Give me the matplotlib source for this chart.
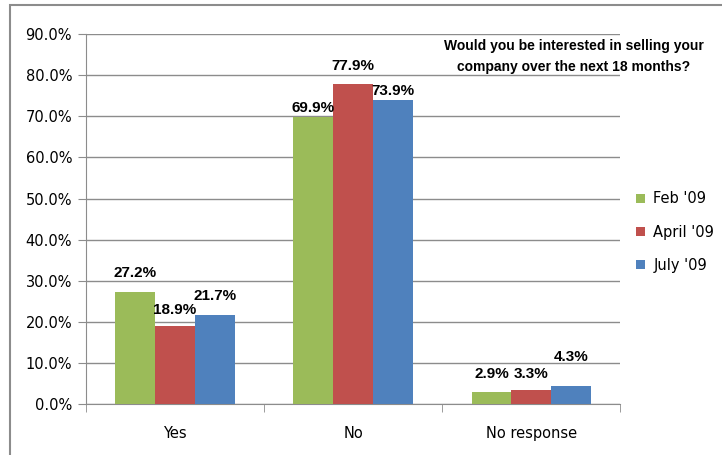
import matplotlib.pyplot as plt
from matplotlib.patches import Rectangle
import numpy as np

categories = ['Yes', 'No', 'No response']
series_names = ["Feb '09", "April '09", "July '09"]
feb = [27.2, 69.9, 2.9]
april = [18.9, 77.9, 3.3]
july = [21.7, 73.9, 4.3]
colors = ['#9BBB59', '#C0504D', '#4F81BD']
# label gaps above each bar (points), per series
label_gaps = [[8.5, 1.5, 8], [7, 8, 7], [8.5, 1.5, 16]]

fig = plt.figure(figsize=(7.22, 4.55), dpi=100)
ax = fig.add_axes([0.119, 0.112, 0.740, 0.813])

x = np.arange(len(categories))
width = 0.223
for i, (vals, name, c) in enumerate(zip([feb, april, july], series_names, colors)):
    pos = x + (i - 1) * width
    bars = ax.bar(pos, vals, width, color=c, label=name, zorder=3)
    for b, v, g in zip(bars, vals, label_gaps[i]):
        ax.annotate(f'{v:.1f}%', (b.get_x() + b.get_width() / 2, v),
                    xytext=(0, g), textcoords='offset points',
                    ha='center', va='bottom', fontsize=11, fontweight='bold',
                    family='Liberation Sans', zorder=4)

ax.set_ylim(0, 90)
ax.set_xlim(-0.5, 2.5)
ax.set_yticks(np.arange(0, 91, 10))
ax.set_yticklabels([f'{t:.1f}%' for t in np.arange(0, 91, 10)], fontsize=10.5)
ax.yaxis.grid(True, color='#8c8c8c', linewidth=1, zorder=0)
ax.set_axisbelow(True)

ax.set_xticks(x)
ax.set_xticklabels(categories, fontsize=10.5)
ax.set_xticks([-0.5, 0.5, 1.5, 2.5], minor=True)
ax.tick_params(axis='x', which='major', length=0, pad=16)
ax.tick_params(axis='x', which='minor', length=6, color='#8c8c8c', direction='out')
ax.tick_params(axis='y', length=6, color='#8c8c8c', direction='out', pad=4)

for s in ['top', 'right']:
    ax.spines[s].set_visible(False)
for s in ['left', 'bottom']:
    ax.spines[s].set_color('#8c8c8c')

ax.text(0.913, 0.94, 'Would you be interested in selling your\ncompany over the next 18 months?',
        transform=ax.transAxes, ha='center', va='center', fontsize=10,
        fontweight='bold', family='Liberation Sans', linespacing=1.6)

ax.legend(loc='center left', bbox_to_anchor=(1.005, 0.465), frameon=False,
          fontsize=10.5, handlelength=0.6, handleheight=0.6, labelspacing=1.25,
          handletextpad=0.6)

# outer chart frame
fig.patches.append(Rectangle((10 / 722, -0.5), 2, 1.5 - 5 / 455,
                             transform=fig.transFigure, fill=False,
                             edgecolor='#8c8c8c', linewidth=1.5))

fig.savefig('out.png', dpi=100)
